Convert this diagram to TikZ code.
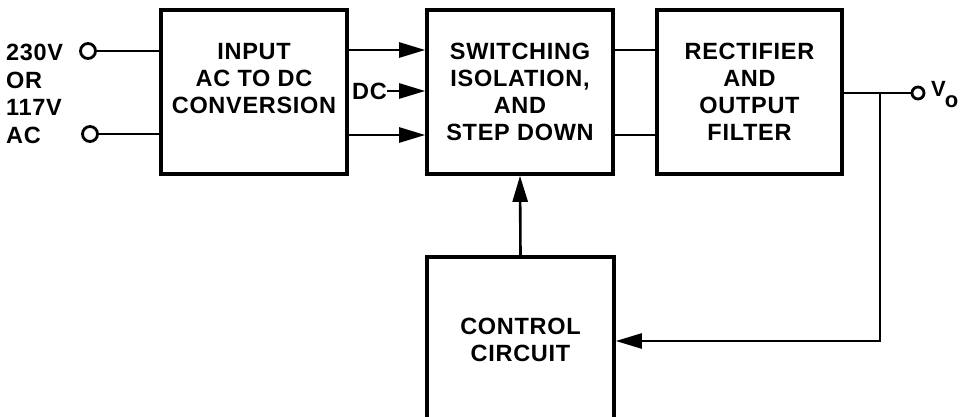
\documentclass[tikz,border=0pt]{standalone}
\usepackage{fontspec}
\setmainfont[LetterSpace=3]{Liberation Sans}
\usetikzlibrary{arrows.meta}
\begin{document}
\begin{tikzpicture}[x=1pt,y=-1pt,
  box/.style={draw, line width=3.6pt, inner sep=0pt, align=center, font=\bfseries\fontsize{23.5}{27}\selectfont},
  lbl/.style={inner sep=0pt, align=center, font=\bfseries\fontsize{23.5}{27}\selectfont},
  wire/.style={line width=2.6pt},
  arr/.style={wire, -{Triangle[length=26pt,width=15pt]}},
  term/.style={draw, circle, line width=2.8pt, inner sep=0pt}]
\useasboundingbox (0,0) rectangle (969,417);
\clip (0,0) rectangle (969,417);
% boxes
\node[box, minimum width=186pt, minimum height=164pt] (inp) at (254,92) {};
\node[lbl] (inpt) at (254,79) {INPUT\\AC TO DC\\CONVERSION};
\node[box, minimum width=186pt, minimum height=164pt] (sw) at (520,92) {SWITCHING\\ISOLATION,\\AND\\STEP DOWN};
\node[box, minimum width=185pt, minimum height=164pt] (rec) at (749.5,92) {RECTIFIER\\AND\\OUTPUT\\FILTER};
\node[box, minimum width=187pt, minimum height=166pt] (ctl) at (520.5,340) {CONTROL\\CIRCUIT};
% input labels and terminals
\node[lbl, align=left, anchor=west, font=\bfseries\fontsize{23.5}{27.6}\selectfont] (acl) at (6,94) {230V\\OR\\117V\\AC};
\node[term, minimum size=15pt] (t1) at (88,51) {};
\node[term, minimum size=15pt] (t2) at (90,134) {};
\draw[wire] (t1.east) -- (t1.east -| inp.west);
\draw[wire] (t2.east) -- (t2.east -| inp.west);
% arrows into switching
\coordinate (a1) at (346,50);
\coordinate (a3) at (346,135);
\draw[arr] (a1 -| inp.east) -- (a1 -| sw.west);
\draw[arr] (a3 -| inp.east) -- (a3 -| sw.west);
\node[lbl, anchor=east] (dc) at (387,91) {DC};
\draw[arr] (dc.east) -- (dc.east -| sw.west);
% switching to rectifier
\draw[wire] (a1 -| sw.east) -- (a1 -| rec.west);
\draw[wire] (a3 -| sw.east) -- (a3 -| rec.west);
% output
\node[term, minimum size=12pt] (vo) at (918,93) {};
\node[inner sep=0pt, anchor=base west, font=\bfseries\fontsize{22}{22}\selectfont] (vol) at (931,97) {V\kern-1pt\raisebox{-11pt}{o}};
\draw[wire] (vo.west -| rec.east) -- (vo.west);
\coordinate (j) at (880,93);
\coordinate (jb) at (880,341);
\draw[arr] (j) -- (jb) -- (jb -| ctl.east);
% control to switching
\draw[arr] (ctl.north) -- (sw.south);
\end{tikzpicture}
\end{document}
